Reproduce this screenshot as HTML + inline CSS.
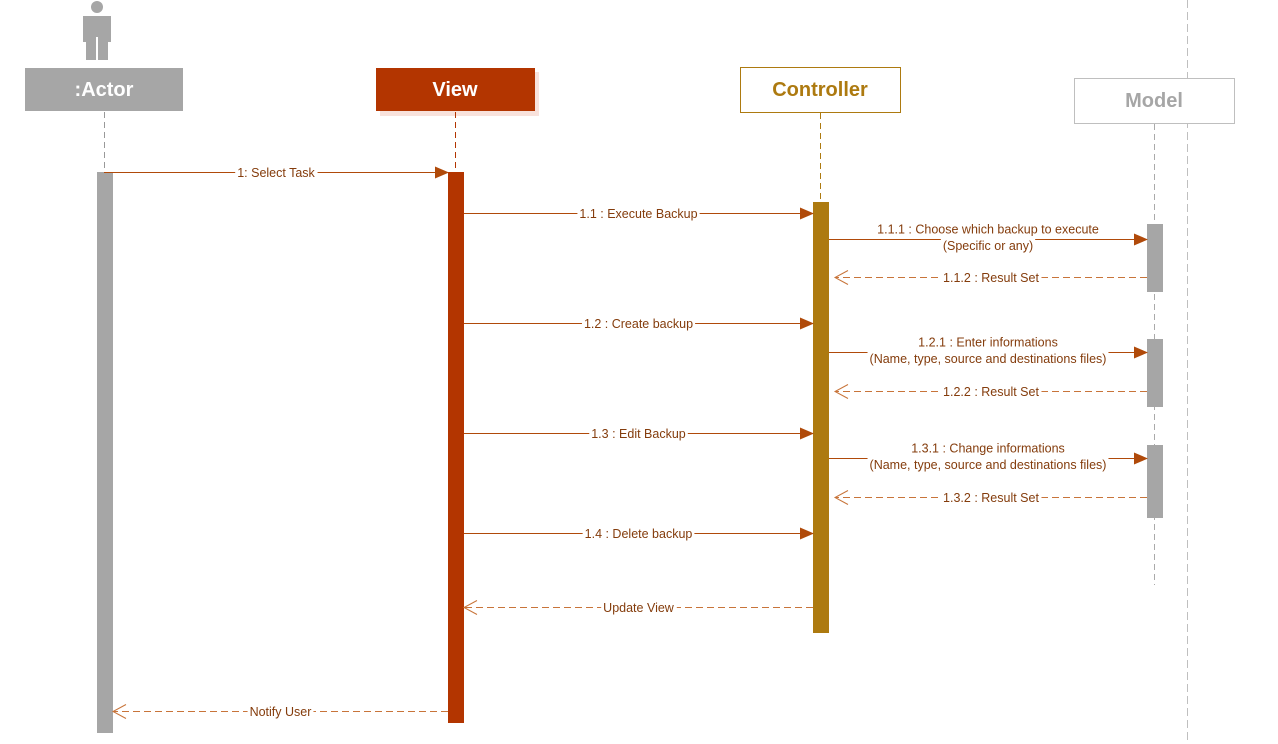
<!DOCTYPE html>
<html><head><meta charset="utf-8"><style>
html,body{margin:0;padding:0;background:#fff;}
svg{display:block;font-family:"Liberation Sans",sans-serif;}
</style></head><body>
<svg id="d" width="1278" height="744" viewBox="0 0 1278 744">
<defs>
<marker id="solid" markerWidth="14" markerHeight="12" refX="13" refY="6" orient="auto" markerUnits="userSpaceOnUse"><path d="M0,0 L14,6 L0,12 Z" fill="#b04a0a"/></marker>
<marker id="open" markerWidth="16" markerHeight="16" refX="14" refY="8" orient="auto" markerUnits="userSpaceOnUse"><path d="M1,1 L14,8 L1,15" fill="none" stroke="#c8743a" stroke-width="1"/></marker>
</defs>
<line x1="1187.5" y1="0" x2="1187.5" y2="744" stroke="#bfbfbf" stroke-dasharray="8,4"/>
<g fill="#a6a6a6">
<circle cx="97" cy="7" r="6"/>
<path d="M83,16 H111 V42 H108 V60 H98 V37 H96 V60 H86 V42 H83 Z"/>
</g>
<rect x="25" y="68" width="158" height="43" fill="#a6a6a6"/>
<text x="104" y="96" text-anchor="middle" fill="#fff" font-weight="bold" font-size="20">:Actor</text>
<rect x="380" y="72" width="159" height="44" fill="#f8e2dc"/>
<rect x="376" y="68" width="159" height="43" fill="#b33500"/>
<text x="455" y="96" text-anchor="middle" fill="#fff" font-weight="bold" font-size="20">View</text>
<rect x="740.5" y="67.5" width="160" height="45" fill="#fff" stroke="#ad7a10"/>
<text x="820" y="96" text-anchor="middle" fill="#ad7a10" font-weight="bold" font-size="20">Controller</text>
<rect x="1074.5" y="78.5" width="160" height="45" fill="#fff" stroke="#bfbfbf"/>
<text x="1154" y="107" text-anchor="middle" fill="#a6a6a6" font-weight="bold" font-size="20">Model</text>
<line x1="104.5" y1="112" x2="104.5" y2="172" stroke="#999" stroke-dasharray="6,4"/>
<line x1="455.5" y1="112" x2="455.5" y2="172" stroke="#b33500" stroke-dasharray="6,4"/>
<line x1="820.5" y1="113" x2="820.5" y2="202" stroke="#ad7a10" stroke-dasharray="6,4"/>
<line x1="1154.5" y1="124" x2="1154.5" y2="585" stroke="#aaa" stroke-dasharray="6,4"/>
<rect x="97" y="172" width="16" height="561" fill="#a6a6a6"/>
<rect x="448" y="172" width="16" height="551" fill="#b33500"/>
<rect x="813" y="202" width="16" height="431" fill="#ad7a10"/>
<rect x="1147" y="224" width="16" height="68" fill="#a6a6a6"/>
<rect x="1147" y="339" width="16" height="68" fill="#a6a6a6"/>
<rect x="1147" y="445" width="16" height="73" fill="#a6a6a6"/>
<g id="msgs"></g>
</svg>
<script>
const msgLabels=["1: Select Task","1.1 : Execute Backup","1.1.1 : Choose which backup to execute|(Specific or any)","1.1.2 : Result Set","1.2 : Create backup","1.2.1 : Enter informations|(Name, type, source and destinations files)","1.2.2 : Result Set","1.3 : Edit Backup","1.3.1 : Change informations|(Name, type, source and destinations files)","1.3.2 : Result Set","1.4 : Delete backup","Update View","Notify User"];
const msgFrom=[104,464,829,1147,464,829,1147,464,829,1147,464,813,448];
const msgTo=[448,813,1147,835,813,1147,835,813,1147,835,813,464,113];
const msgY=[172,213,239,277,323,352,391,433,458,497,533,607,711];
const msgReturn=[0,0,0,1,0,0,1,0,0,1,0,1,1];
const NS="http://www.w3.org/2000/svg";
const g=document.getElementById('msgs');
for(let i=0;i<msgLabels.length;i++){
  const y=msgY[i]+0.5,x1=msgFrom[i],x2=msgTo[i],ret=msgReturn[i];
  const ln=document.createElementNS(NS,'line');
  
  
  ln.setAttribute('x1',x1);ln.setAttribute('y1',y);
  ln.setAttribute('x2',x2);ln.setAttribute('y2',y);
  if(ret){ln.setAttribute('stroke','#c8743a');ln.setAttribute('stroke-dasharray','7,4');ln.setAttribute('marker-end','url(#open)');}
  else{ln.setAttribute('stroke','#b04a0a');ln.setAttribute('marker-end','url(#solid)');}
  g.appendChild(ln);
  const parts=msgLabels[i].split('|');
  const cx=(x1+x2)/2;
  const tg=document.createElementNS(NS,'g');
  
  
  g.appendChild(tg);
  const startY=parts.length>1?y-6:y+4.5;
  parts.forEach((p,k)=>{
    const t=document.createElementNS(NS,'text');
    
    
    t.setAttribute('x',cx);t.setAttribute('y',startY+k*16.5);
    t.setAttribute('text-anchor','middle');t.setAttribute('font-size','12.5');
    t.setAttribute('fill','#843c0c');
    t.textContent=p;
    tg.appendChild(t);
    const b=t.getBBox();
    const r=document.createElementNS(NS,'rect');
    
    
    r.setAttribute('x',b.x-2);r.setAttribute('y',b.y);r.setAttribute('width',b.width+4);r.setAttribute('height',b.height);
    r.setAttribute('fill','#fff');
    tg.insertBefore(r,t);
  });
}
</script>
</body></html>
